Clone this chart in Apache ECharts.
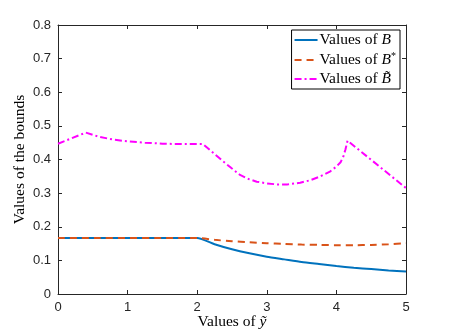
<!DOCTYPE html>
<html>
<head>
<meta charset="utf-8">
<script src="https://cdn.jsdelivr.net/npm/echarts@6/dist/echarts.min.js"></script>
<style>
  html, body { margin: 0; padding: 0; background: #fff; }
  #chart { width: 449px; height: 336px; }
</style>
</head>
<body>
<div id="chart"></div>
<script>
// values
const xB = [0, 2, 2.25, 2.5, 2.75, 3, 3.25, 3.5, 3.75, 4, 4.25, 4.5, 4.75, 5]
const yB = [0.1667, 0.1667, 0.148, 0.133, 0.121, 0.111, 0.103, 0.095, 0.089, 0.083, 0.078, 0.074, 0.070, 0.067]

const xBstar = [0, 2, 2.25, 2.5, 2.75, 3, 3.25, 3.5, 3.75, 4, 4.25, 4.5, 4.75, 5]
const yBstar = [0.1667, 0.1667, 0.161, 0.157, 0.154, 0.151, 0.149, 0.147, 0.146, 0.145, 0.145, 0.146, 0.148, 0.151]

const xBtilde = [0, 0.4, 0.6, 0.8, 1.0, 1.25, 1.5, 1.75, 2.08, 2.2, 2.375, 2.5, 2.615, 2.75, 2.855, 3.0, 3.14, 3.3, 3.48, 3.62, 3.76, 3.9, 4.0, 4.06, 4.1, 4.13, 4.16, 5]
const yBtilde = [0.447, 0.480, 0.467, 0.459, 0.454, 0.450, 0.447, 0.446, 0.446, 0.425, 0.394, 0.373, 0.354, 0.341, 0.334, 0.329, 0.326, 0.326, 0.331, 0.338, 0.349, 0.363, 0.379, 0.392, 0.409, 0.430, 0.456, 0.315]

const xTicks = [0, 1, 2, 3, 4, 5]
const yTicks = [0, 0.1, 0.2, 0.3, 0.4, 0.5, 0.6, 0.7, 0.8]

const pairs = (xs, ys) => xs.map((x, i) => [x, ys[i]])

const axisColor = '#262626'
const serif = '"Liberation Serif", "DejaVu Serif", serif'
const sans = '"Liberation Sans", Arial, sans-serif'

const chart = echarts.init(document.getElementById('chart'))

const baseX = {
  type: 'value', min: xTicks[0], max: xTicks[xTicks.length - 1], interval: 1,
  axisLine: { onZero: false, lineStyle: { color: axisColor, width: 1 } },
  axisTick: { inside: true, length: 4, lineStyle: { color: axisColor } },
  splitLine: { show: false }
}
const baseY = {
  type: 'value', min: yTicks[0], max: yTicks[yTicks.length - 1], interval: 0.1,
  axisLine: { onZero: false, lineStyle: { color: axisColor, width: 1 } },
  axisTick: { inside: true, length: 4, lineStyle: { color: axisColor } },
  splitLine: { show: false }
}

const fs = 15.5
const labelRich = {
  r: { fontFamily: serif, fontSize: fs, color: '#000' },
  i: { fontFamily: serif, fontSize: fs, fontStyle: 'italic', color: '#000' },
  s: { fontFamily: serif, fontSize: 10, color: '#000', padding: [0, 0, 8, 0] }
}

chart.setOption({
  animation: false,
  grid: { left: 58, right: 43, top: 25, bottom: 42, containLabel: false, outerBoundsMode: 'none' },
  legend: {
    orient: 'vertical',
    right: 49,
    top: 30,
    itemWidth: 23,
    itemHeight: 10,
    itemGap: 3,
    padding: [2, 4, 2, 2],
    borderColor: '#000',
    borderWidth: 1,
    backgroundColor: '#fff',
    itemStyle: { opacity: 0 },
    data: ['B', 'Bstar', 'Btilde'],
    formatter: name => {
      if (name === 'B') return '{r|Values of }{i|B}'
      if (name === 'Bstar') return '{r|Values of }{i|B}{s|*}'
      return '{r|Values of }{i|B̃}'
    },
    textStyle: { rich: labelRich, padding: [0, 0, 0, -3] }
  },
  xAxis: [
    Object.assign({}, baseX, {
      position: 'bottom',
      axisLabel: { color: axisColor, fontFamily: sans, fontSize: 13, margin: 7 },
      name: '{r|Values of }{i|ỹ}',
      nameLocation: 'middle',
      nameGap: 20,
      nameMoveOverlap: false,
      nameTextStyle: { rich: labelRich }
    }),
    Object.assign({}, baseX, { position: 'top', axisLabel: { show: false } })
  ],
  yAxis: [
    Object.assign({}, baseY, {
      position: 'left',
      axisLabel: { color: axisColor, fontFamily: sans, fontSize: 13, margin: 7 },
      name: 'Values of the bounds',
      nameLocation: 'middle',
      nameGap: 30,
      nameMoveOverlap: false,
      nameTextStyle: { fontFamily: serif, fontSize: fs, color: '#000' }
    }),
    Object.assign({}, baseY, { position: 'right', axisLabel: { show: false } })
  ],
  series: [
    {
      name: 'B', type: 'line', showSymbol: false, symbol: 'none',
      data: pairs(xB, yB), smooth: 0.2,
      lineStyle: { color: '#0072BD', width: 2 }, itemStyle: { color: '#0072BD' }
    },
    {
      name: 'Bstar', type: 'line', showSymbol: false, symbol: 'none',
      data: pairs(xBstar, yBstar), smooth: 0.2,
      lineStyle: { color: '#D95319', width: 2, type: [7, 5] }, itemStyle: { color: '#D95319' }
    },
    {
      name: 'Btilde', type: 'line', showSymbol: false, symbol: 'none',
      data: pairs(xBtilde, yBtilde),
      lineStyle: { color: '#FF00FF', width: 2, type: [7, 3, 2, 3] }, itemStyle: { color: '#FF00FF' }
    }
  ]
})
</script>
</body>
</html>
